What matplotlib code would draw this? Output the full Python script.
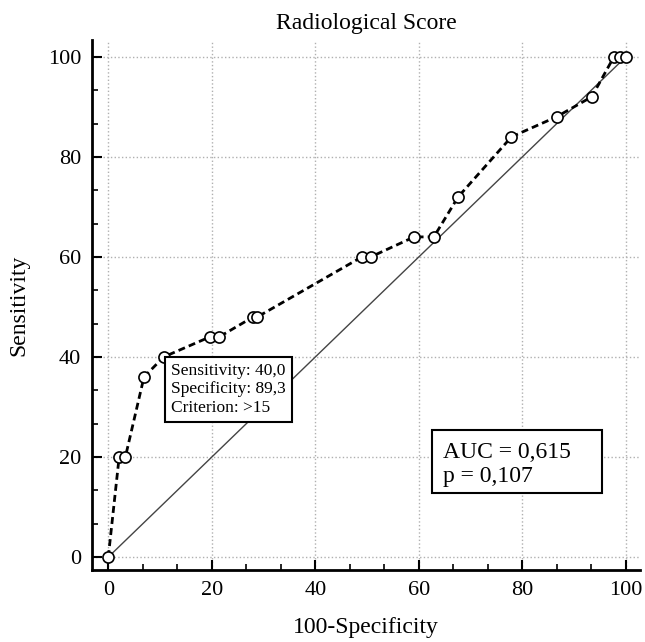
import matplotlib
matplotlib.use("Agg")
import matplotlib.pyplot as plt
from matplotlib.patches import Rectangle
import numpy as np

plt.rcParams['font.family'] = ['Liberation Serif', 'DejaVu Serif']

fpr = [0, 2.1, 3.3, 6.9, 10.7, 19.6, 21.4, 28.0, 28.8, 49.0, 50.7, 59.1, 62.9,
       67.6, 77.9, 86.6, 93.4, 97.7, 98.8, 100]
tpr = [0, 20, 20, 36, 40, 44, 44, 48, 48, 60, 60, 64, 64,
       72, 84, 88, 92, 100, 100, 100]
major_ticks = [0, 20, 40, 60, 80, 100]
title = "Radiological Score"
xlabel = "100-Specificity"
ylabel = "Sensitivity"
criterion_text = "Sensitivity: 40,0\nSpecificity: 89,3\nCriterion: >15"
auc_text = "AUC = 0,615\np = 0,107"

fig = plt.figure(figsize=(6.45, 6.42), dpi=100)
ax = fig.add_axes([0.143, 0.112, 0.849, 0.826])

ax.plot([0, 100], [0, 100], color='#444444', lw=1.0, zorder=2)
ax.plot(fpr, tpr, color='black', lw=2.0, ls=(0, (2.5, 1.5)), marker='o',
        markersize=8, markerfacecolor='white', markeredgecolor='black',
        markeredgewidth=1.2, zorder=3)

ax.set_xlim(-3.1, 102.7)
ax.set_ylim(-2.6, 103.4)
ax.set_xticks(major_ticks)
ax.set_yticks(major_ticks)
ax.set_xticks(np.arange(0, 101, 20 / 3), minor=True)
ax.set_yticks(np.arange(0, 101, 20 / 3), minor=True)
ax.tick_params(which='major', direction='in', length=7, width=1.5, labelsize=16, pad=8)
ax.tick_params(which='minor', direction='in', length=4, width=1.2)
ax.grid(True, which='major', color='#b0b0b0', ls=':', lw=1.0)

for s in ['top', 'right']:
    ax.spines[s].set_visible(False)
for s in ['left', 'bottom']:
    ax.spines[s].set_linewidth(2.0)

ax.set_title(title, fontsize=17, pad=8)
ax.set_xlabel(xlabel, fontsize=17, labelpad=12)
ax.set_ylabel(ylabel, fontsize=17, labelpad=13)

ax.text(12.2, 38.8, criterion_text, fontsize=12.5, va='top', ha='left',
        linespacing=1.2,
        bbox=dict(boxstyle='square,pad=0.35', facecolor='white',
                  edgecolor='black', lw=1.5), zorder=5)

ax.add_patch(Rectangle((62.5, 12.8), 32.9, 12.6, facecolor='white',
                       edgecolor='black', lw=1.5, zorder=5))
ax.text(64.7, 23.0, auc_text, fontsize=17, va='top', ha='left',
        linespacing=1.2, zorder=6)

fig.savefig('out.png', dpi=100)
